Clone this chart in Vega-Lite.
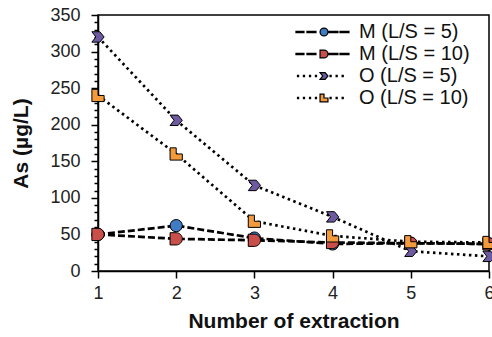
{
  "$schema": "https://vega.github.io/schema/vega-lite/v6.json",
  "width": 391,
  "height": 256,
  "autosize": "none",
  "padding": {"left": 98, "top": 15, "right": 3, "bottom": 66},
  "background": "white",
  "config": {
    "view": {"stroke": "black", "strokeWidth": 1.5},
    "font": "Liberation Sans",
    "axis": {
      "domainColor": "black",
      "domainWidth": 1.5,
      "tickColor": "black",
      "tickWidth": 1.5,
      "grid": false,
      "labelFont": "Liberation Sans",
      "labelFontSize": 18,
      "labelColor": "#222",
      "titleFont": "Liberation Sans",
      "titleFontSize": 21,
      "titleFontWeight": "bold",
      "titleColor": "#111"
    }
  },
  "data": {
    "values": [
      {"x": 1, "y": 50, "series": "M (L/S = 5)"},
      {"x": 2, "y": 62, "series": "M (L/S = 5)"},
      {"x": 3, "y": 45, "series": "M (L/S = 5)"},
      {"x": 4, "y": 37, "series": "M (L/S = 5)"},
      {"x": 5, "y": 38, "series": "M (L/S = 5)"},
      {"x": 6, "y": 37, "series": "M (L/S = 5)"},
      {"x": 1, "y": 50, "series": "M (L/S = 10)"},
      {"x": 2, "y": 44, "series": "M (L/S = 10)"},
      {"x": 3, "y": 42, "series": "M (L/S = 10)"},
      {"x": 4, "y": 39, "series": "M (L/S = 10)"},
      {"x": 5, "y": 38, "series": "M (L/S = 10)"},
      {"x": 6, "y": 37, "series": "M (L/S = 10)"},
      {"x": 1, "y": 320, "series": "O (L/S = 5)"},
      {"x": 2, "y": 206, "series": "O (L/S = 5)"},
      {"x": 3, "y": 117, "series": "O (L/S = 5)"},
      {"x": 4, "y": 74, "series": "O (L/S = 5)"},
      {"x": 5, "y": 27, "series": "O (L/S = 5)"},
      {"x": 6, "y": 20, "series": "O (L/S = 5)"},
      {"x": 1, "y": 240, "series": "O (L/S = 10)"},
      {"x": 2, "y": 160, "series": "O (L/S = 10)"},
      {"x": 3, "y": 68, "series": "O (L/S = 10)"},
      {"x": 4, "y": 48, "series": "O (L/S = 10)"},
      {"x": 5, "y": 40, "series": "O (L/S = 10)"},
      {"x": 6, "y": 39, "series": "O (L/S = 10)"}
    ]
  },
  "encoding": {
    "x": {
      "field": "x",
      "type": "quantitative",
      "scale": {"domain": [1, 6], "nice": false, "zero": false},
      "axis": {
        "title": "Number of extraction",
        "values": [1, 1.5, 2, 2.5, 3, 3.5, 4, 4.5, 5, 5.5, 6],
        "format": "d",
        "labelExpr": "datum.value % 1 === 0 ? datum.label : ''",
        "tickSize": {"condition": {"test": "datum.value % 1 === 0", "value": 7}, "value": 4},
        "labelFlush": false,
        "labelPadding": 6,
        "titlePadding": 8
      }
    },
    "y": {
      "field": "y",
      "type": "quantitative",
      "scale": {"domain": [0, 350], "nice": false},
      "axis": {
        "title": "As (µg/L)",
        "values": [0,10,20,30,40,50,60,70,80,90,100,110,120,130,140,150,160,170,180,190,200,210,220,230,240,250,260,270,280,290,300,310,320,330,340,350],
        "labelExpr": "datum.value % 50 === 0 ? datum.label : ''",
        "tickSize": {"condition": {"test": "datum.value % 50 === 0", "value": 7}, "value": 4},
        "labelPadding": 11,
        "titlePadding": 18
      }
    }
  },
  "layer": [
    {
      "mark": {"type": "line", "color": "black", "strokeWidth": 2.7, "strokeCap": "butt"},
      "encoding": {
        "detail": {"field": "series"},
        "strokeDash": {
          "field": "series",
          "type": "nominal",
          "scale": {
            "range": [[7, 3], [7, 3], [2.5, 3.5], [2.5, 3.5]]
          },
          "legend": null
        }
      }
    },
    {
      "mark": {"type": "point", "filled": true, "stroke": "black", "strokeWidth": 1, "opacity": 1, "size": 150},
      "encoding": {
        "shape": {
          "field": "series",
          "type": "nominal",
          "scale": {
            "range": [
              "M-1,-1 L0,-1 A1,1 0 0,1 0,1 L-1,1 Z",
              "circle",
              "M-1,-1 L0,-1 L0,0 L1,0 L1,1 L-1,1 Z",
              "M-1,-0.85 L0.3,-0.85 L1,0 L0.3,0.85 L-1,0.85 L-0.35,0 Z"
            ]
          },
          "legend": null
        },
        "fill": {
          "field": "series",
          "type": "nominal",
          "scale": {
            "domain": ["M (L/S = 5)", "M (L/S = 10)", "O (L/S = 5)", "O (L/S = 10)"],
            "range": ["#3f7cc4", "#c9504a", "#6e5aa0", "#f29a3c"]
          },
          "legend": {
            "title": null,
            "orient": "none",
            "legendX": 197,
            "legendY": 5,
            "padding": 0,
            "rowPadding": -6,
            "symbolSize": 484,
            "symbolOffset": 17,
            "labelOffset": 23,
            "symbolStrokeColor": "black",
            "symbolStrokeWidth": 1.2,
            "labelFont": "Liberation Sans",
            "labelFontSize": 20,
            "labelColor": "#111",
            "symbolType": {"expr": "datum.value === 'M (L/S = 5)' ? 'M-2.55,-0.05L-1.82,-0.05L-1.82,0.05L-2.55,0.05Z M-1.55,-0.05L-0.73,-0.05L-0.73,0.05L-1.55,0.05Z M0.45,-0.05L1.27,-0.05L1.27,0.05L0.45,0.05Z M1.45,-0.05L2.27,-0.05L2.27,0.05L1.45,0.05Z M0.36,0 A0.36,0.36 0 1,1 -0.36,0 A0.36,0.36 0 1,1 0.36,0 Z' : datum.value === 'M (L/S = 10)' ? 'M-2.55,-0.05L-1.82,-0.05L-1.82,0.05L-2.55,0.05Z M-1.55,-0.05L-0.73,-0.05L-0.73,0.05L-1.55,0.05Z M0.45,-0.05L1.27,-0.05L1.27,0.05L0.45,0.05Z M1.45,-0.05L2.27,-0.05L2.27,0.05L1.45,0.05Z M-0.36,-0.36 L0,-0.36 A0.36,0.36 0 0,1 0,0.36 L-0.36,0.36 Z' : datum.value === 'O (L/S = 5)' ? 'M-2.41,-0.05L-2.31,-0.05L-2.31,0.05L-2.41,0.05Z M-1.87,-0.05L-1.77,-0.05L-1.77,0.05L-1.87,0.05Z M-1.32,-0.05L-1.22,-0.05L-1.22,0.05L-1.32,0.05Z M-0.78,-0.05L-0.68,-0.05L-0.68,0.05L-0.78,0.05Z M0.55,-0.05L0.65,-0.05L0.65,0.05L0.55,0.05Z M1.1,-0.05L1.2,-0.05L1.2,0.05L1.1,0.05Z M1.65,-0.05L1.75,-0.05L1.75,0.05L1.65,0.05Z M-0.36,-0.3 L0.1,-0.3 L0.36,0 L0.1,0.3 L-0.36,0.3 L-0.12,0 Z' : 'M-2.41,-0.05L-2.31,-0.05L-2.31,0.05L-2.41,0.05Z M-1.87,-0.05L-1.77,-0.05L-1.77,0.05L-1.87,0.05Z M-1.32,-0.05L-1.22,-0.05L-1.22,0.05L-1.32,0.05Z M-0.78,-0.05L-0.68,-0.05L-0.68,0.05L-0.78,0.05Z M0.55,-0.05L0.65,-0.05L0.65,0.05L0.55,0.05Z M1.1,-0.05L1.2,-0.05L1.2,0.05L1.1,0.05Z M1.65,-0.05L1.75,-0.05L1.75,0.05L1.65,0.05Z M-0.36,-0.36 L0,-0.36 L0,0 L0.36,0 L0.36,0.36 L-0.36,0.36 Z'"}
          }
        }
      }
    }
  ]
}
